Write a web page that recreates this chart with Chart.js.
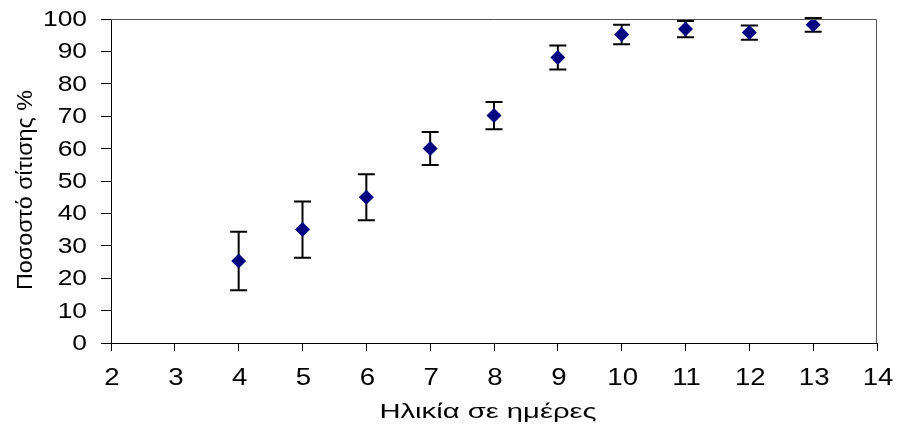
<!DOCTYPE html>
<html>
<head>
<meta charset="utf-8">
<script src="https://cdn.jsdelivr.net/npm/chart.js@4"></script>
<style>
  html, body { margin: 0; padding: 0; background: #fff; }
  #wrap { width: 897px; height: 428px; }
</style>
</head>
<body>
<div id="wrap"><canvas id="chart"></canvas></div>
<script>
// ηλικία (ημέρες) και ποσοστό σίτισης
const ages = [4, 5, 6, 7, 8, 9, 10, 11, 12, 13];
const feeding = [25.3, 35, 45, 60, 70.2, 88.1, 95.2, 96.9, 95.8, 98.2];
const errors = [9, 8.7, 7.1, 5.1, 4.2, 3.7, 3, 2.5, 2.2, 2.1];

const xTicks = [2, 3, 4, 5, 6, 7, 8, 9, 10, 11, 12, 13, 14];
const yTicks = [0, 10, 20, 30, 40, 50, 60, 70, 80, 90, 100];
const xTitle = "Ηλικία σε ημέρες";
const yTitle = "Ποσοστό σίτισης %";

const points = ages.map((a, i) => ({ x: a, y: feeding[i] }));
const FAMILY = "'Liberation Sans', Arial, sans-serif";

// error bars drawn from the scales
const errorBars = {
  id: "errorBars",
  beforeDatasetsDraw(chart) {
    const ctx = chart.ctx;
    const xs = chart.scales.x;
    const ys = chart.scales.y;
    ctx.save();
    ctx.strokeStyle = "#000";
    ctx.lineWidth = 2;
    ages.forEach((a, i) => {
      const px = xs.getPixelForValue(a);
      const top = ys.getPixelForValue(feeding[i] + errors[i]);
      const bot = ys.getPixelForValue(feeding[i] - errors[i]);
      ctx.beginPath();
      ctx.moveTo(px, top);
      ctx.lineTo(px, bot);
      ctx.moveTo(px - 8.5, top);
      ctx.lineTo(px + 8.5, top);
      ctx.moveTo(px - 8.5, bot);
      ctx.lineTo(px + 8.5, bot);
      ctx.stroke();
    });
    ctx.restore();
  }
};

// frame on top and right
const frame = {
  id: "frame",
  afterDraw(chart) {
    const { ctx, chartArea } = chart;
    ctx.save();
    ctx.strokeStyle = "#555";
    ctx.lineWidth = 1;
    ctx.beginPath();
    ctx.moveTo(chartArea.left, chartArea.top + 0.5);
    ctx.lineTo(chartArea.right - 0.5, chartArea.top + 0.5);
    ctx.lineTo(chartArea.right - 0.5, chartArea.bottom);
    ctx.stroke();
    ctx.restore();
  }
};

// the labels in the original are a bit wide, so draw them stretched
function wideText(ctx, text, x, y, size, sx, align, base, rot) {
  ctx.save();
  ctx.translate(x, y);
  if (rot) ctx.rotate(rot);
  ctx.scale(sx, 1);
  ctx.font = size + "px " + FAMILY;
  ctx.fillStyle = "#000";
  ctx.textAlign = align;
  ctx.textBaseline = base;
  ctx.fillText(text, 0, 0);
  ctx.restore();
}

const labels = {
  id: "labels",
  afterDraw(chart) {
    const ctx = chart.ctx;
    const xs = chart.scales.x;
    const ys = chart.scales.y;
    const area = chart.chartArea;
    yTicks.forEach(v => {
      wideText(ctx, String(v), 87, ys.getPixelForValue(v) + 1, 22, 1.2, "right", "middle");
    });
    xTicks.forEach(v => {
      wideText(ctx, String(v), xs.getPixelForValue(v) + 1, 379, 23, 1.2, "center", "middle");
    });
    wideText(ctx, xTitle, 488, 418, 20, 1.46, "center", "alphabetic");
    wideText(ctx, yTitle, 32, 190, 22, 1.06, "center", "alphabetic", -Math.PI / 2);
  }
};

new Chart(document.getElementById("chart"), {
  type: "scatter",
  data: {
    datasets: [{
      data: points,
      pointStyle: "rectRot",
      pointRadius: 7.5,
      pointHoverRadius: 7.5,
      backgroundColor: "#000080",
      borderColor: "#000080",
      borderWidth: 0
    }]
  },
  options: {
    responsive: true,
    maintainAspectRatio: false,
    animation: false,
    layout: { padding: { left: 0, right: 20, top: 19, bottom: 0 } },
    plugins: { legend: { display: false }, tooltip: { enabled: false } },
    scales: {
      x: {
        min: 2,
        max: 14,
        ticks: { stepSize: 1, display: false },
        grid: { drawOnChartArea: false, tickLength: 8, color: "#000", tickWidth: 1 },
        border: { color: "#000", width: 1 },
        afterFit(scale) { scale.height = 85; }
      },
      y: {
        min: 0,
        max: 100,
        ticks: { stepSize: 10, display: false },
        grid: { drawOnChartArea: false, tickLength: 10, color: "#000", tickWidth: 1 },
        border: { color: "#000", width: 1 },
        afterFit(scale) { scale.width = 111; }
      }
    }
  },
  plugins: [errorBars, frame, labels]
});
</script>
</body>
</html>
